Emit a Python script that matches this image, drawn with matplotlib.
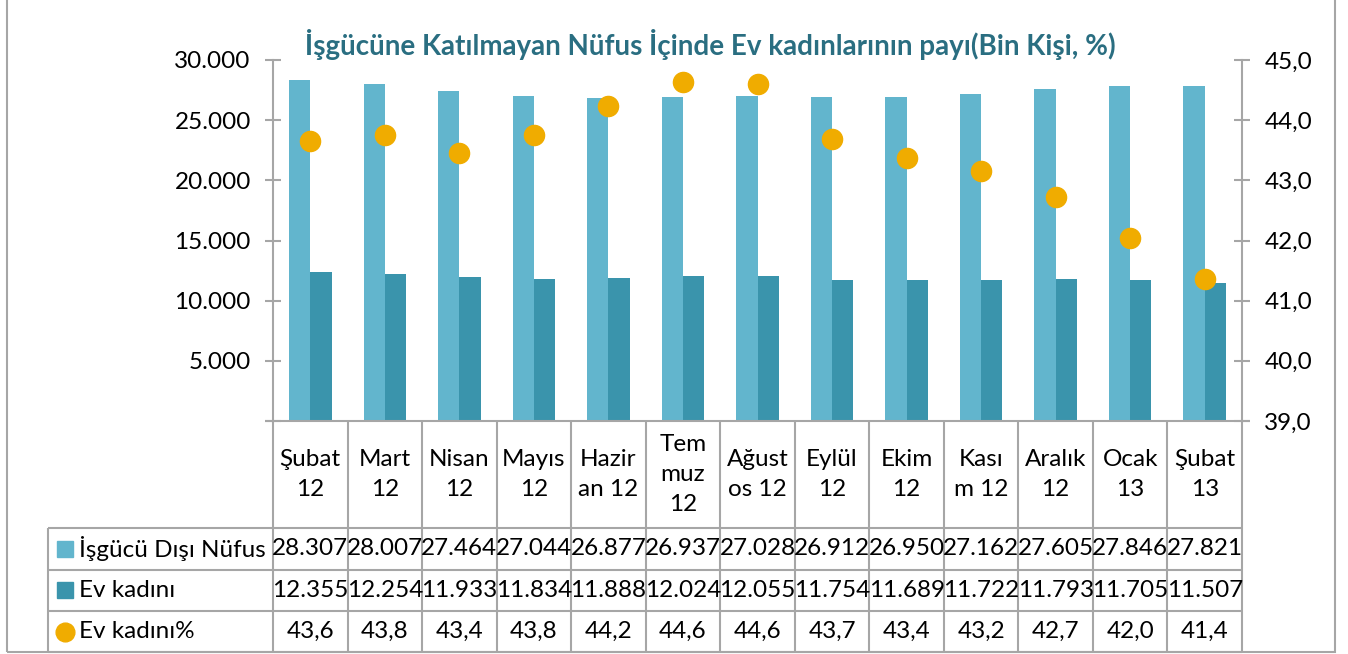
import matplotlib
matplotlib.use("Agg")
import matplotlib.pyplot as plt
from matplotlib.patches import Rectangle
from matplotlib.ticker import FuncFormatter

plt.rcParams['font.family'] = ['Lato', 'DejaVu Sans']

months = ["Şubat\n12", "Mart\n12", "Nisan\n12", "Mayıs\n12", "Hazir\nan 12",
          "Tem\nmuz\n12", "Ağust\nos 12", "Eylül\n12", "Ekim\n12", "Kası\nm 12",
          "Aralık\n12", "Ocak\n13", "Şubat\n13"]
isgucu_disi = [28307, 28007, 27464, 27044, 26877, 26937, 27028, 26912, 26950,
               27162, 27605, 27846, 27821]
ev_kadini = [12355, 12254, 11933, 11834, 11888, 12024, 12055, 11754, 11689,
             11722, 11793, 11705, 11507]
ev_kadini_pct = [43.65, 43.75, 43.45, 43.76, 44.23, 44.64, 44.60, 43.68, 43.37,
                 43.16, 42.72, 42.04, 41.36]
pct_table = ["43,6", "43,8", "43,4", "43,8", "44,2", "44,6", "44,6", "43,7",
             "43,4", "43,2", "42,7", "42,0", "41,4"]
series_names = ["İşgücü Dışı Nüfus", "Ev kadını", "Ev kadını%"]

C_LIGHT = "#62B5CD"
C_DARK = "#3A94AC"
C_DOT = "#F0AC00"
C_GRID = "#A6A6A6"
W, H = 1348, 654
FS = 17.5

fig = plt.figure(figsize=(W / 100, H / 100), dpi=100)

# outer frame
fig.patches.append(Rectangle((7 / W, 1 - 652 / H), (1335 - 7) / W, 652 / H + 0.05,
                             transform=fig.transFigure, fill=False,
                             edgecolor=C_GRID, lw=1.5))

ax = fig.add_axes([273 / W, 1 - 421 / H, (1242 - 273) / W, (421 - 60) / H])
x = list(range(len(months)))
bw = 0.285
ax.bar([i - bw / 2 for i in x], isgucu_disi, width=bw, color=C_LIGHT)
ax.bar([i + bw / 2 for i in x], ev_kadini, width=bw, color=C_DARK)
ax.set_xlim(-0.5, len(months) - 0.5)
ax.set_ylim(0, 30000)
ax.set_yticks(range(0, 30001, 5000))
ax.yaxis.set_major_formatter(FuncFormatter(
    lambda v, p: "" if v == 0 else f"{int(v):,}".replace(",", ".")))
ax.set_xticks([])
for s in ["top", "right", "bottom"]:
    ax.spines[s].set_visible(False)
ax.spines["left"].set_color(C_GRID)
ax.spines["left"].set_linewidth(1.5)
ax.tick_params(axis="y", direction="inout", length=12, width=1.5, color=C_GRID,
               labelsize=FS, pad=10)

ax2 = ax.twinx()
ax2.plot(x, ev_kadini_pct, "o", ms=14.5, color=C_DOT, zorder=5)
ax2.set_ylim(39, 45)
ax2.set_yticks(range(39, 46))
ax2.yaxis.set_major_formatter(FuncFormatter(lambda v, p: f"{v:.1f}".replace(".", ",")))
for s in ["top", "left", "bottom"]:
    ax2.spines[s].set_visible(False)
ax2.spines["right"].set_color(C_GRID)
ax2.spines["right"].set_linewidth(1.5)
ax2.tick_params(axis="y", direction="inout", length=12, width=1.5, color=C_GRID,
                labelsize=FS, pad=10)

fig.text(710 / W, 1 - 45 / H,
         "İşgücüne Katılmayan Nüfus İçinde Ev kadınlarının payı(Bin Kişi, %)",
         ha="center", va="center", fontsize=20, fontweight="bold", color="#2A6E81")

# data table below the plot, same category spacing as the bars
leg_w = (273 - 48) / ((1242 - 273) / len(months))
tx = fig.add_axes([48 / W, 1 - 652 / H, (1242 - 48) / W, (652 - 421) / H])
tx.set_xlim(-0.5 - leg_w, len(months) - 0.5)
tx.set_ylim(231, 0)
tx.axis("off")
rows = [0, 107, 148.5, 190, 231]
lkw = dict(color=C_GRID, lw=1.5, clip_on=False, solid_capstyle="butt")
tx.plot([-0.61, len(months) - 0.39], [0, 0], **lkw)
for r in rows[1:]:
    tx.plot([-0.5 - leg_w, len(months) - 0.5], [r, r], **lkw)
tx.plot([-0.5 - leg_w] * 2, [rows[1], rows[-1]], **lkw)
for b in range(len(months) + 1):
    tx.plot([b - 0.5] * 2, [0, rows[-1]], **lkw)

for i, m in enumerate(months):
    tx.text(i, rows[1] / 2, m, ha="center", va="center", fontsize=FS,
            linespacing=1.55)
    tx.text(i, (rows[1] + rows[2]) / 2, f"{isgucu_disi[i]:,}".replace(",", "."),
            ha="center", va="center", fontsize=FS)
    tx.text(i, (rows[2] + rows[3]) / 2, f"{ev_kadini[i]:,}".replace(",", "."),
            ha="center", va="center", fontsize=FS)
    tx.text(i, (rows[3] + rows[4]) / 2, pct_table[i], ha="center", va="center",
            fontsize=FS)

mx = -0.5 - leg_w + 0.23
styles = [("s", C_LIGHT), ("s", C_DARK), ("o", C_DOT)]
for k, (name, (mk, col)) in enumerate(zip(series_names, styles)):
    yc = (rows[k + 1] + rows[k + 2]) / 2
    tx.plot([mx], [yc], mk, color=col, ms=12 if mk == "s" else 13.5, clip_on=False)
    tx.text(mx + 0.19, yc, name, ha="left", va="center", fontsize=FS)

fig.savefig("out.png", dpi=100)
